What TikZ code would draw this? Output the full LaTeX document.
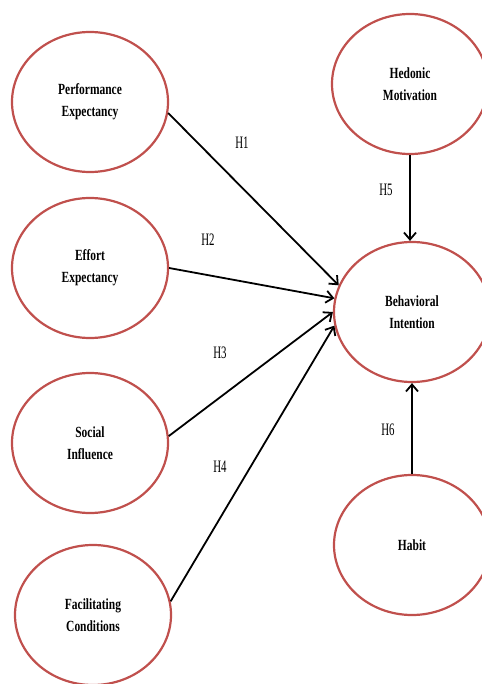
\documentclass[tikz,border=0pt]{standalone}
\usepackage{fontspec}
\setmainfont{Liberation Serif}[FakeStretch=0.74]
\newfontfamily\hfont{Liberation Serif}[FakeStretch=0.62]
\usetikzlibrary{arrows.meta,shapes.geometric}
\definecolor{ringred}{RGB}{192,80,77}
\tikzset{
    construct/.style={ellipse, draw=ringred, line width=2.2pt, minimum width=156pt,
        minimum height=140pt, inner sep=0pt, align=center,
        font=\fontsize{15.5}{22}\selectfont\bfseries},
    hyp/.style={line width=1.8pt, -{Straight Barb[length=7pt,width=12pt]}},
    hlabel/.style={font=\hfont\fontsize{17.5}{18}\selectfont}
}
\begin{document}
\begin{tikzpicture}[x=1pt, y=-1pt]
    \useasboundingbox (0, 0) rectangle (481, 684);
    % constructs, left column
    \node[construct] (pe) at (90, 102) {Performance\\Expectancy};
    \node[construct] (ee) at (90, 268) {Effort\\Expectancy};
    \node[construct] (si) at (90, 443) {Social\\Influence};
    \node[construct] (fc) at (93, 615) {Facilitating\\Conditions};
    % constructs, right column
    \node[construct] (hm) at (410, 84) {Hedonic\\Motivation};
    \node[construct] (bi) at (412, 312) {Behavioral\\Intention};
    \node[construct] (hb) at (412, 545) {Habit};
    % hypotheses
    \draw[hyp] (pe.-8) -- (bi.160);
    \draw[hyp] (ee.0) -- (bi.170);
    \draw[hyp] (si.5) -- (bi.180);
    \draw[hyp] (fc.10) -- (bi.190);
    \draw[hyp] (hm.south) -- (hm.south |- bi.north);
    \draw[hyp] (hb.north) -- (hb.north |- bi.south);
    \node[hlabel] (h1) at (242, 143) {H1};
    \node[hlabel] (h2) at (208, 240) {H2};
    \node[hlabel] (h3) at (220, 353) {H3};
    \node[hlabel] (h4) at (220, 467) {H4};
    \node[hlabel] (h5) at (386, 190) {H5};
    \node[hlabel] (h6) at (388, 430) {H6};
\end{tikzpicture}
\end{document}
